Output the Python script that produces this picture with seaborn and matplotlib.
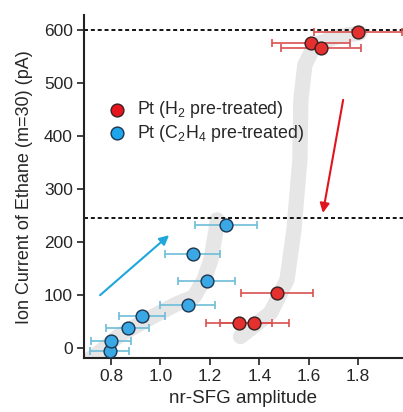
import numpy as np
import pandas as pd
import seaborn as sns
import matplotlib.pyplot as plt

# values
h2_x = [1.80, 1.608, 1.65, 1.471, 1.318, 1.38]
h2_y = [596, 575, 566, 104, 47, 47]
h2_xerr = [0.178, 0.158, 0.163, 0.147, 0.132, 0.138]

c2h4_x = [0.795, 0.80, 0.867, 0.926, 1.11, 1.187, 1.13, 1.264]
c2h4_y = [-6, 14, 39, 60, 82, 127, 178, 232]
c2h4_xerr = [0.08, 0.08, 0.088, 0.094, 0.11, 0.115, 0.11, 0.125]

# grey guide bands (hand traced)
band1_x = [0.70, 0.76, 0.836, 0.958, 1.059, 1.136, 1.176, 1.204, 1.225, 1.229]
band1_y = [-25, -5, 25, 57, 82, 97, 129, 166, 223, 242]
band2_x = [1.324, 1.446, 1.512, 1.540, 1.564, 1.568, 1.584, 1.625, 1.714, 1.807]
band2_y = [22, 67, 129, 223, 355, 468, 534, 572, 587, 594]

ref_levels = [600, 245]

sns.set_theme(style="ticks")
plt.rcParams['font.family'] = ['Liberation Sans', 'DejaVu Sans']
plt.rcParams['mathtext.fontset'] = 'custom'
plt.rcParams['mathtext.rm'] = 'Liberation Sans'
plt.rcParams['mathtext.it'] = 'Liberation Sans:italic'

fig = plt.figure(figsize=(4.03, 4.12), dpi=100)
ax = fig.add_axes([0.2084, 0.1303, 0.7916, 0.8333])

# bands
for bx, by in [(band1_x, band1_y), (band2_x, band2_y)]:
    sns.lineplot(x=bx, y=by, sort=False, color='#e6e6e6', lw=11,
                 solid_capstyle='round', ax=ax, zorder=0)

# dashed reference lines
for lvl in ref_levels:
    ax.axhline(lvl, color='black', lw=1.3, ls=(0, (2.2, 1.6)), zorder=1)

# error bars
ax.errorbar(c2h4_x, c2h4_y, xerr=c2h4_xerr, fmt='none', ecolor='#6cbcd9',
            elinewidth=1.2, capsize=3, capthick=1.2, zorder=2)
ax.errorbar(h2_x, h2_y, xerr=h2_xerr, fmt='none', ecolor='#d9504f',
            elinewidth=1.2, capsize=3, capthick=1.2, zorder=2)

sns.scatterplot(x=h2_x, y=h2_y, color='#e4302f', edgecolor='#3a2020',
                linewidth=1, s=85, ax=ax, zorder=3)
sns.scatterplot(x=c2h4_x, y=c2h4_y, color='#3aa8e4', edgecolor='#1d3550',
                linewidth=1, s=85, ax=ax, zorder=3)

# arrows
ax.annotate('', xy=(1.035, 213), xytext=(0.756, 100),
            arrowprops=dict(arrowstyle='-|>', color='#1ea6dd', lw=1.5,
                            mutation_scale=14, shrinkA=0, shrinkB=0))
ax.annotate('', xy=(1.657, 255), xytext=(1.739, 468),
            arrowprops=dict(arrowstyle='-|>', color='#e0141c', lw=1.5,
                            mutation_scale=14, shrinkA=0, shrinkB=0))

# legend
h1 = ax.scatter([], [], color='#e8141c', edgecolor='#3a2020', s=85, lw=1)
h2 = ax.scatter([], [], color='#1ea6ec', edgecolor='#1d3550', s=85, lw=1)
ax.legend([h1, h2], ['Pt (H$_2$ pre-treated)', 'Pt (C$_2$H$_4$ pre-treated)'],
          loc='upper left', bbox_to_anchor=(0.02, 0.78), frameon=False,
          fontsize=12.8, handletextpad=0.15, labelspacing=0.15, borderpad=0)

ax.set_xlim(0.691, 1.981)
ax.set_ylim(-19, 628)
ax.set_xticks([0.8, 1.0, 1.2, 1.4, 1.6, 1.8])
ax.set_yticks([0, 100, 200, 300, 400, 500, 600])
ax.set_xticklabels(['0.8', '1.0', '1.2', '1.4', '1.6', '1.8'])
ax.tick_params(labelsize=12.5, length=5, width=1.3, color='#333333', pad=3)
for sp in ['left', 'bottom']:
    ax.spines[sp].set_linewidth(1.5)
    ax.spines[sp].set_color('#222222')
sns.despine(ax=ax)
ax.set_xlabel('nr-SFG amplitude', fontsize=13.5, labelpad=4)
ax.set_ylabel('Ion Current of Ethane (m=30) (pA)', fontsize=13, labelpad=8)

fig.savefig('out.png', dpi=100)
